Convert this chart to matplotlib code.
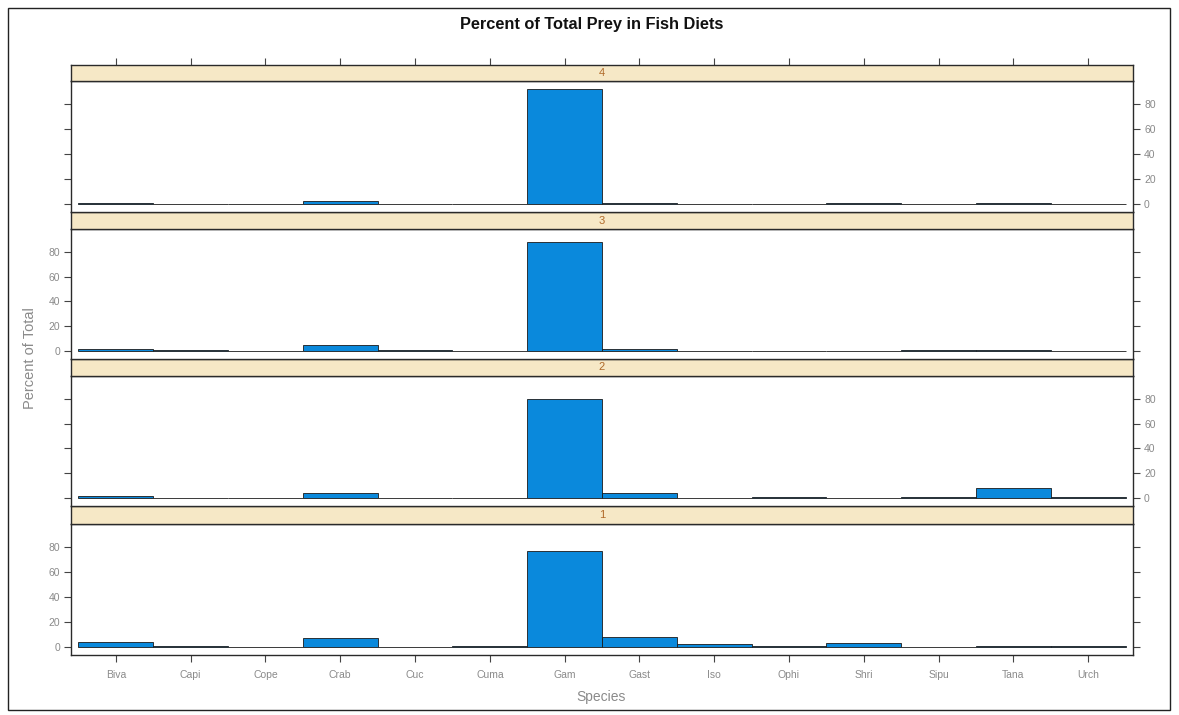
import matplotlib
matplotlib.use("Agg")
import matplotlib.pyplot as plt
from matplotlib.patches import Rectangle

plt.rcParams['font.family'] = ['Liberation Sans', 'DejaVu Sans']

species = ["Biva", "Capi", "Cope", "Crab", "Cuc", "Cuma", "Gam",
           "Gast", "Iso", "Ophi", "Shri", "Sipu", "Tana", "Urch"]

# percent of total prey per panel (panel label -> values by species)
panel_1 = [4.0, 1.0, 0.0, 7.0, 0.0, 1.0, 77.0, 8.0, 2.0, 0.5, 3.0, 0.0, 1.0, 0.5]
panel_2 = [2.0, 0.0, 0.0, 4.0, 0.0, 0.0, 80.0, 4.0, 0.0, 0.5, 0.0, 0.5, 8.0, 1.0]
panel_3 = [2.0, 0.5, 0.0, 5.0, 0.5, 0.0, 88.0, 2.0, 0.0, 0.0, 0.3, 0.8, 0.8, 0.0]
panel_4 = [0.8, 0.0, 0.0, 2.5, 0.0, 0.0, 92.0, 0.5, 0.0, 0.0, 0.5, 0.0, 0.8, 0.0]
panel_labels = ["1", "2", "3", "4"]
panel_values = [panel_1, panel_2, panel_3, panel_4]
y_ticks = [0, 20, 40, 60, 80]

W, H = 1179, 715
fig = plt.figure(figsize=(W / 100, H / 100), dpi=100)
fig.patch.set_facecolor("white")

def fy(px):
    return 1 - px / H

def fx(px):
    return px / W

# outer border
fig.patches.append(Rectangle((fx(8), fy(710)), fx(1170) - fx(8), fy(8) - fy(710),
                             transform=fig.transFigure, fill=False,
                             edgecolor="#222222", linewidth=1.0))

fig.text(fx(592), fy(25), "Percent of Total Prey in Fish Diets", ha="center",
         va="center", fontsize=11.8, fontweight="bold", color="#111111")

# pixel layout (strip_top, strip_bottom/plot_top, plot_bottom), bottom panel first
layout = [(506, 524, 655), (359, 376, 506), (212, 229, 359), (65, 81, 212)]
x_left, x_right = 71, 1133

ymax = max(max(v) for v in panel_values)
ylim = (-0.07 * ymax, 1.07 * ymax)
xs = list(range(1, len(species) + 1))

bar_color = "#0a89dc"
strip_color = "#f6e8c6"
frame_color = "#2a2a2a"
tick_label_color = "#8a8a8a"

for i, (lab, vals, (st, sb, pb)) in enumerate(zip(panel_labels, panel_values, layout)):
    ax = fig.add_axes([fx(x_left), fy(pb), fx(x_right) - fx(x_left), fy(sb) - fy(pb)])
    ax.bar(xs, vals, width=1.0, color=bar_color, edgecolor="#1a1a1a", linewidth=0.6)
    ax.set_xlim(0.4, len(species) + 0.6)
    ax.set_ylim(*ylim)
    for s in ax.spines.values():
        s.set_color(frame_color)
        s.set_linewidth(1.0)
    ax.set_yticks(y_ticks)
    left_labels = (i % 2 == 0)
    ax.tick_params(axis="y", which="both", left=True, right=True,
                   labelleft=left_labels, labelright=not left_labels,
                   direction="out", length=5, width=0.8, color="#444444",
                   labelsize=7.5, labelcolor=tick_label_color, pad=3)
    ax.set_xticks(xs)
    if i == 0:
        ax.set_xticklabels(species)
        ax.tick_params(axis="x", bottom=True, top=False, direction="out",
                       length=5, width=0.8, color="#444444", labelsize=7.5,
                       labelcolor=tick_label_color, pad=6)
    else:
        ax.tick_params(axis="x", bottom=False, top=False, labelbottom=False)

    sax = fig.add_axes([fx(x_left), fy(sb), fx(x_right) - fx(x_left), fy(st) - fy(sb)])
    sax.set_facecolor(strip_color)
    sax.set_xlim(0.4, len(species) + 0.6)
    sax.set_ylim(0, 1)
    sax.set_yticks([])
    for s in sax.spines.values():
        s.set_color(frame_color)
        s.set_linewidth(1.0)
    if i == len(panel_labels) - 1:
        sax.set_xticks(xs)
        sax.tick_params(axis="x", bottom=False, top=True, labelbottom=False,
                        labeltop=False, direction="out", length=5, width=0.8,
                        color="#444444")
    else:
        sax.set_xticks([])
    sax.text(0.5, 0.5, lab, transform=sax.transAxes, ha="center", va="center",
             fontsize=8, color="#b06a2a")

fig.text(fx(30), fy(358), "Percent of Total", rotation=90, ha="center", va="center",
         fontsize=10.5, color="#8a8a8a")
fig.text(fx(601), fy(697), "Species", ha="center", va="center",
         fontsize=10, color="#8a8a8a")

fig.savefig("out.png", dpi=100)
